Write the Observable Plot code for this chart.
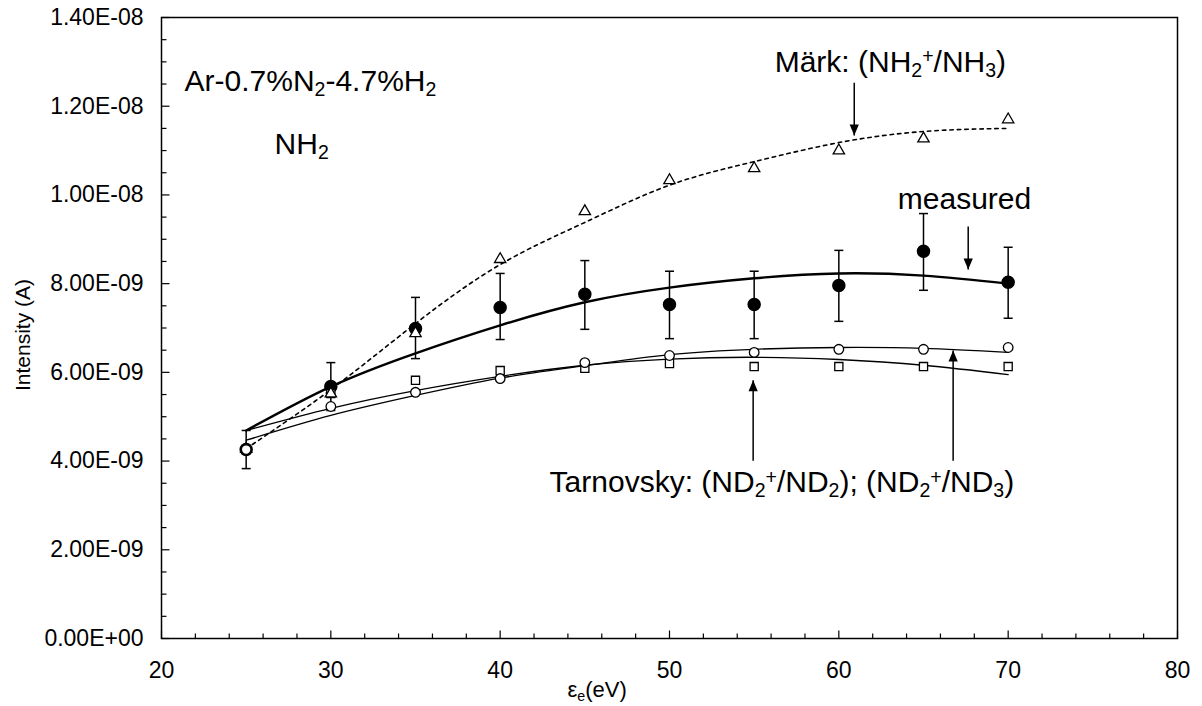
<!DOCTYPE html>
<html><head><meta charset="utf-8">
<script src="https://cdn.jsdelivr.net/npm/d3@7"></script>
<script src="https://cdn.jsdelivr.net/npm/@observablehq/plot@0.6"></script>
<style>body{margin:0;background:#fff;} svg{display:block}</style>
</head><body><div id="chart"></div>
<script>
// ---------- data ----------
const energy = [25, 30, 35, 40, 45, 50, 55, 60, 65, 70];            // eV
const measured   = [4.26e-9, 5.68e-9, 6.99e-9, 7.46e-9, 7.76e-9, 7.53e-9, 7.53e-9, 7.96e-9, 8.73e-9, 8.03e-9];
const measuredLo = [3.83e-9, 5.14e-9, 6.31e-9, 6.74e-9, 6.97e-9, 6.76e-9, 6.76e-9, 7.15e-9, 7.85e-9, 7.22e-9];
const measuredHi = [4.69e-9, 6.22e-9, 7.69e-9, 8.23e-9, 8.52e-9, 8.28e-9, 8.28e-9, 8.75e-9, 9.58e-9, 8.82e-9];
const mark       = [4.27e-9, 5.52e-9, 6.88e-9, 8.55e-9, 9.63e-9, 10.33e-9, 10.6e-9, 11.0e-9, 11.27e-9, 11.7e-9];
const tarnND3    = [4.26e-9, 5.23e-9, 5.55e-9, 5.86e-9, 6.22e-9, 6.38e-9, 6.45e-9, 6.52e-9, 6.52e-9, 6.56e-9]; // circles
const tarnND2    = [4.26e-9, 5.52e-9, 5.82e-9, 6.04e-9, 6.09e-9, 6.20e-9, 6.13e-9, 6.13e-9, 6.13e-9, 6.13e-9]; // squares
// fitted trend curves (read at the same energies)
const measuredFit = [4.69e-9, 5.68e-9, 6.43e-9, 7.06e-9, 7.58e-9, 7.91e-9, 8.12e-9, 8.23e-9, 8.18e-9, 8.00e-9];
const markFit     = [4.28e-9, 5.61e-9, 7.10e-9, 8.43e-9, 9.38e-9, 10.22e-9, 10.75e-9, 11.18e-9, 11.43e-9, 11.50e-9];
const tarnND3Fit  = [4.47e-9, 5.03e-9, 5.48e-9, 5.87e-9, 6.15e-9, 6.40e-9, 6.52e-9, 6.56e-9, 6.54e-9, 6.45e-9];
const tarnND2Fit  = [4.69e-9, 5.19e-9, 5.59e-9, 5.91e-9, 6.16e-9, 6.30e-9, 6.34e-9, 6.29e-9, 6.16e-9, 5.95e-9];

const xTicks = [20, 30, 40, 50, 60, 70, 80];
const xMinor = [22,24,26,28,32,34,36,38,42,44,46,48,52,54,56,58,62,64,66,68,72,74,76,78];
const yTicks = [0, 2e-9, 4e-9, 6e-9, 8e-9, 10e-9, 12e-9, 14e-9];
const yMinor = [0.5e-9,1e-9,1.5e-9,2.5e-9,3e-9,3.5e-9,4.5e-9,5e-9,5.5e-9,6.5e-9,7e-9,7.5e-9,8.5e-9,9e-9,9.5e-9,10.5e-9,11e-9,11.5e-9,12.5e-9,13e-9,13.5e-9];

// annotations (data coordinates)
const labels = [
  {x: 21.39, y: 12.33e-9, parts: [["Ar-0.7%N",""],["2","sub"],["-4.7%H",""],["2","sub"]]},
  {x: 26.71, y: 10.91e-9, parts: [["NH",""],["2","sub"]]},
  {x: 56.24, y: 12.77e-9, parts: [["Märk: (NH",""],["2","sub"],["+","sup"],["/NH",""],["3","sub"],[")",""]]},
  {x: 63.51, y: 9.67e-9,  parts: [["measured",""]]},
  {x: 42.95, y: 3.29e-9,  parts: [["Tarnovsky: (ND",""],["2","sub"],["+","sup"],["/ND",""],["2","sub"],["); (ND",""],["2","sub"],["+","sup"],["/ND",""],["3","sub"],[")",""]]}
];
const arrows = [
  {x: 60.91, from: 12.53e-9, to: 11.34e-9},
  {x: 67.64, from: 9.29e-9,  to: 8.32e-9},
  {x: 54.94, from: 4.01e-9,  to: 5.82e-9},
  {x: 66.75, from: 4.01e-9,  to: 6.49e-9}
];

// ---------- helpers ----------
const fmtE = v => {
  if (v === 0) return "0.00E+00";
  const [m, e] = v.toExponential(2).split("e");
  const n = +e;
  return m + "E" + (n < 0 ? "-" : "+") + String(Math.abs(n)).padStart(2, "0");
};
const L = s => Math.sqrt(s / Math.PI);
const tickUp    = {draw(c, s) { const l = L(s); c.moveTo(0, 0); c.lineTo(0, -l); }};
const tickRight = {draw(c, s) { const l = L(s); c.moveTo(0, 0); c.lineTo(l, 0); }};
const capSym    = {draw(c, s) { const l = L(s); c.moveTo(-l, 0); c.lineTo(l, 0); }};
const headDown  = {draw(c, s) { const l = L(s); c.moveTo(0, 0); c.lineTo(-0.42*l, -l); c.lineTo(0.42*l, -l); c.closePath(); }};
const headUp    = {draw(c, s) { const l = L(s); c.moveTo(0, 0); c.lineTo(-0.42*l, l); c.lineTo(0.42*l, l); c.closePath(); }};

const rows = ys => energy.map((x, i) => ({x, y: ys[i]}));
const errRows = energy.map((x, i) => ({x, lo: measuredLo[i], hi: measuredHi[i]}));

const plot = Plot.plot({
  width: 1202, height: 706,
  marginLeft: 161, marginRight: 25, marginTop: 17, marginBottom: 68,
  style: {fontFamily: "'Liberation Sans', Arial, sans-serif", fontSize: "23px", color: "black", background: "white", overflow: "visible"},
  x: {domain: [20, 80]},
  y: {domain: [0, 1.4e-8]},
  marks: [
    Plot.frame({stroke: "black", strokeWidth: 1.5}),
    Plot.dot(xTicks, {x: d => d, y: 0, symbol: tickUp, r: 8, stroke: "black", strokeWidth: 1.2}),
    Plot.dot(xMinor, {x: d => d, y: 0, symbol: tickUp, r: 5, stroke: "black", strokeWidth: 1.2}),
    Plot.dot(yTicks, {x: 20, y: d => d, symbol: tickRight, r: 8, stroke: "black", strokeWidth: 1.2}),
    Plot.dot(yMinor, {x: 20, y: d => d, symbol: tickRight, r: 5, stroke: "black", strokeWidth: 1.2}),
    Plot.axisX({ticks: xTicks, tickSize: 0, tickPadding: 23, tickFormat: d => String(d), fontSize: 23, label: null}),
    Plot.axisY({ticks: yTicks, tickSize: 0, tickPadding: 18, tickFormat: fmtE, fontSize: 23, label: null}),
    // trend curves
    Plot.line(rows(markFit), {x: "x", y: "y", curve: "natural", stroke: "black", strokeWidth: 1.6, strokeDasharray: "3.5,4"}),
    Plot.line(rows(tarnND2Fit), {x: "x", y: "y", curve: "natural", stroke: "black", strokeWidth: 1.3}),
    Plot.line(rows(tarnND3Fit), {x: "x", y: "y", curve: "natural", stroke: "black", strokeWidth: 1.3}),
    Plot.line(rows(measuredFit), {x: "x", y: "y", curve: "natural", stroke: "black", strokeWidth: 2.4}),
    // error bars
    Plot.link(errRows, {x1: "x", x2: "x", y1: "lo", y2: "hi", stroke: "black", strokeWidth: 1.5}),
    Plot.dot(errRows, {x: "x", y: "lo", symbol: capSym, r: 4.5, stroke: "black", strokeWidth: 1.5}),
    Plot.dot(errRows, {x: "x", y: "hi", symbol: capSym, r: 4.5, stroke: "black", strokeWidth: 1.5}),
    // markers
    Plot.dot(rows(measured), {x: "x", y: "y", r: 6, fill: "black", stroke: "black"}),
    Plot.dot(rows(tarnND2), {x: "x", y: "y", symbol: "square", r: 4.6, fill: "white", stroke: "black", strokeWidth: 1.3}),
    Plot.dot(rows(mark), {x: "x", y: "y", symbol: "triangle", r: 4.2, fill: "white", stroke: "black", strokeWidth: 1.3}),
    Plot.dot(rows(tarnND3), {x: "x", y: "y", symbol: "circle", r: 4.8, fill: "white", stroke: "black", strokeWidth: 1.3}),
    // arrows
    Plot.link(arrows, {x1: "x", x2: "x", y1: "from", y2: "to", stroke: "black", strokeWidth: 1.5}),
    Plot.dot(arrows.filter(a => a.to < a.from), {x: "x", y: "to", symbol: headDown, r: 11, fill: "black", stroke: "none"}),
    Plot.dot(arrows.filter(a => a.to > a.from), {x: "x", y: "to", symbol: headUp, r: 11, fill: "black", stroke: "none"})
  ]
});

document.getElementById("chart").appendChild(plot);

// ---------- rich text (sub/superscripts) ----------
const sx = plot.scale("x"), sy = plot.scale("y");
const svg = d3.select(plot);
const g = svg.append("g").attr("font-family", "'Liberation Sans', Arial, sans-serif")
  .attr("fill", "black").attr("text-anchor", "start");

function richText(x, y, parts, size, extra = {}) {
  const t = g.append("text").attr("x", x).attr("y", y).attr("font-size", size).attr("text-anchor", "start");
  for (const [k, v] of Object.entries(extra)) t.attr(k, v);
  let shift = 0;
  for (const [s, kind] of parts) {
    const target = kind === "sub" ? 0.18 * size : kind === "sup" ? -0.28 * size : 0;
    t.append("tspan").attr("dy", target - shift).attr("font-size", kind ? size * 0.65 : size).text(s);
    shift = target;
  }
  return t;
}
for (const l of labels) richText(sx.apply(l.x), sy.apply(l.y), l.parts, 30);

// axis titles
richText(sx.apply(44.0), 697, [["ε",""],["e","sub"],["(eV)",""]], 22);
const ty = sy.apply(6.83e-9);
richText(30, ty, [["Intensity (A)",""]], 21,
  {"text-anchor": "middle", transform: `rotate(-90 30 ${ty})`});
</script>
</body></html>
